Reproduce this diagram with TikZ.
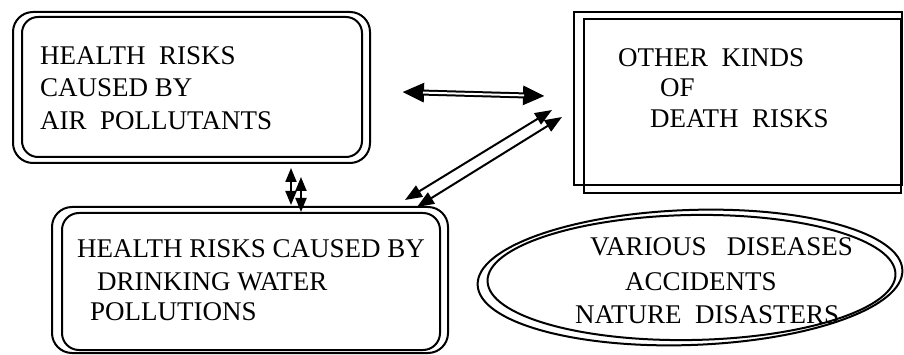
\documentclass[tikz,border=0pt]{standalone}
\usepackage{fontspec}
\setmainfont{Liberation Serif}
\usetikzlibrary{arrows.meta,shapes.geometric}
\begin{document}
\begin{tikzpicture}[x=1pt,y=-1pt,
  boxline/.style={draw=black, line width=2pt, inner sep=0pt, outer sep=0pt},
  rbox/.style={boxline, rectangle, rounded corners=#1},
  sbox/.style={boxline, rectangle},
  oval/.style={boxline, ellipse},
  lab/.style={anchor=base west, inner sep=0pt, font=\fontsize{27}{31}\selectfont},
  thinarrow/.style={line width=2pt, {Triangle[length=14pt,width=11pt]}-{Triangle[length=14pt,width=11pt]}},
  diagarrow/.style={line width=2pt, {Triangle[length=17pt,width=13pt]}-{Triangle[length=17pt,width=13pt]}},
  fatarrow/.style={line width=6pt, {Triangle[length=22pt,width=18pt]}-{Triangle[length=22pt,width=18pt]}},
  fatgap/.style={white, line width=2pt, shorten <=21pt, shorten >=21pt},
]
\useasboundingbox[fill=white] (0,0) rectangle (904,355);

% box 1: air pollutants
\node[rbox=20pt, minimum width=357pt, minimum height=151pt] (airA) at (191.5,87.5) {};
\node[rbox=16pt, minimum width=340pt, minimum height=140pt] (airB) at (192,87) {};
\node[lab] (t1) at (40,65) {HEALTH\ \ RISKS};
\node[lab] (t2) at (40,97) {CAUSED BY};
\node[lab] (t3) at (40,130) {AIR\ \ POLLUTANTS};

% box 2: other kinds of death risks
\node[sbox, minimum width=328pt, minimum height=173pt] (othA) at (738,98.5) {};
\node[sbox, minimum width=317pt, minimum height=174pt] (othB) at (742.5,106) {};
\node[lab] (t4) at (618,67) {OTHER\ \ KINDS};
\node[lab] (t5) at (660,97) {OF};
\node[lab] (t6) at (650,128) {DEATH\ \ RISKS};

% box 3: drinking water
\node[rbox=20pt, minimum width=396pt, minimum height=146pt] (watA) at (250,280) {};
\node[rbox=17pt, minimum width=378pt, minimum height=137pt] (watB) at (251,281.5) {};
\node[lab] (t7) at (77,258) {HEALTH RISKS CAUSED BY};
\node[lab] (t8) at (97,290) {DRINKING WATER};
\node[lab] (t9) at (90,320) {POLLUTIONS};

% ellipse
\node[oval, minimum width=425pt, minimum height=135pt, rotate=2] (ellA) at (690,277.5) {};
\node[oval, minimum width=408pt, minimum height=125pt, rotate=1] (ellB) at (691.5,277.5) {};
\node[lab] (t10) at (590,255) {VARIOUS\ \ \ DISEASES};
\node[lab] (t11) at (625,290) {ACCIDENTS};
\node[lab] (t12) at (575,323) {NATURE\ \ DISASTERS};

% connectors
\coordinate (h1) at (402,92);
\coordinate (h2) at (545,96);
\draw[fatarrow] (h1) -- (h2);
\draw[fatgap] (h1) -- (h2);

\coordinate (d1a) at (405,200);
\coordinate (d1b) at (552,110);
\coordinate (d2a) at (417,207);
\coordinate (d2b) at (562,117);
\draw[diagarrow] (d1a) -- (d1b);
\draw[diagarrow] (d2a) -- (d2b);

\coordinate (v1a) at (291,168);
\coordinate (v1b) at (291,205);
\coordinate (v2a) at (301,177);
\coordinate (v2b) at (301,212);
\draw[thinarrow] (v1a) -- (v1b);
\draw[thinarrow] (v2a) -- (v2b);
\end{tikzpicture}
\end{document}
